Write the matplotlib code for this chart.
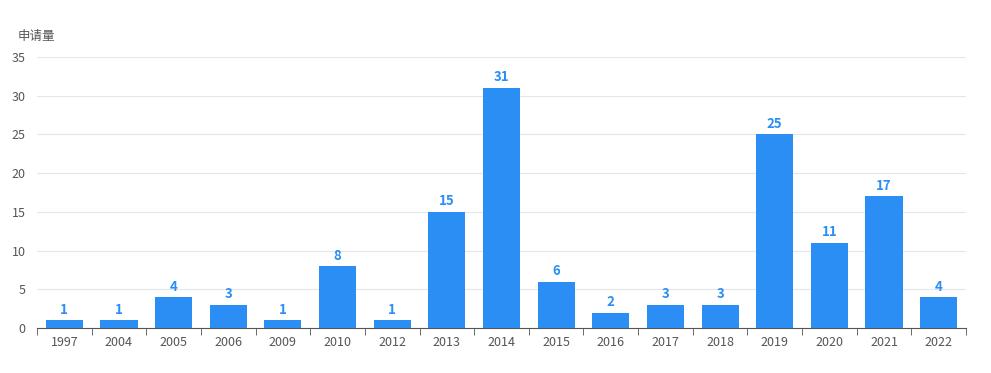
import matplotlib.pyplot as plt
import numpy as np

plt.rcParams['font.family'] = ['Noto Sans CJK SC', 'DejaVu Sans']

years = ['1997', '2004', '2005', '2006', '2009', '2010', '2012', '2013', '2014',
         '2015', '2016', '2017', '2018', '2019', '2020', '2021', '2022']
counts = [1, 1, 4, 3, 1, 8, 1, 15, 31, 6, 2, 3, 3, 25, 11, 17, 4]

bar_color = '#2a8ef5'

fig = plt.figure(figsize=(9.91, 3.73), dpi=100)
ax = fig.add_axes([0.0373, 0.1206, 0.9375, 0.7266])

x = np.arange(len(years))
bars = ax.bar(x, counts, width=0.68, color=bar_color, zorder=3)
for xi, v in zip(x, counts):
    ax.text(xi, v + 0.45, str(v), ha='center', va='bottom', fontsize=9.5,
            fontweight='bold', color=bar_color, zorder=4)

ax.set_xlim(-0.5, len(years) - 0.5)
ax.set_ylim(0, 35)
ax.set_yticks(range(0, 36, 5))
ax.set_xticks(x)
ax.set_xticklabels(years)
ax.set_xticks(np.arange(-0.5, len(years), 1), minor=True)
ax.tick_params(axis='x', which='major', length=0, labelsize=9, colors='#555555', pad=6)
ax.tick_params(axis='x', which='minor', length=5, color='#555555')
ax.tick_params(axis='y', length=0, labelsize=9, colors='#555555', pad=8)

ax.grid(axis='y', color='#e3e6ec', linewidth=0.8, zorder=0)
for s in ['top', 'right', 'left']:
    ax.spines[s].set_visible(False)
ax.spines['bottom'].set_color('#555555')

fig.text(0.018, 0.903, '申请量', fontsize=9, color='#555555', ha='left', va='center')

fig.savefig('out.png', dpi=100, facecolor='white')
